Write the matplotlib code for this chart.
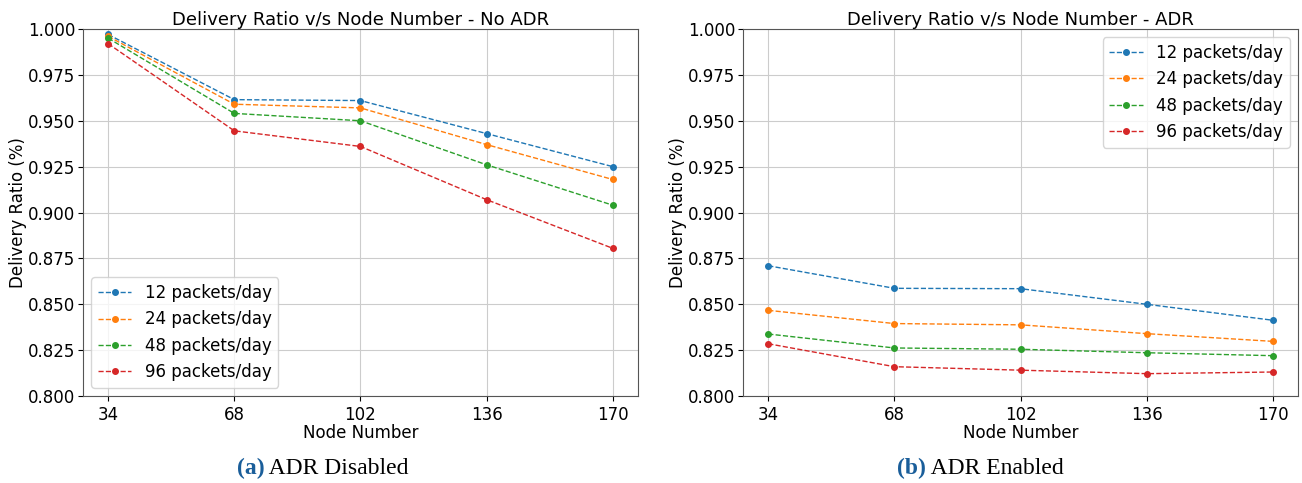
import matplotlib
matplotlib.use("Agg")
import matplotlib.pyplot as plt

plt.rcParams["font.family"] = ["DejaVu Sans"]

nodes = [34, 68, 102, 136, 170]
labels = ["12 packets/day", "24 packets/day", "48 packets/day", "96 packets/day"]

# no ADR
no_adr = [
    [0.997, 0.9615, 0.961, 0.943, 0.925],
    [0.996, 0.959, 0.957, 0.937, 0.918],
    [0.995, 0.954, 0.950, 0.926, 0.904],
    [0.992, 0.9445, 0.936, 0.907, 0.8805],
]

# ADR enabled
adr = [
    [0.871, 0.8587, 0.8585, 0.850, 0.8413],
    [0.8467, 0.8395, 0.8388, 0.834, 0.8298],
    [0.8338, 0.8262, 0.8255, 0.8236, 0.822],
    [0.8285, 0.816, 0.8141, 0.8122, 0.8131],
]

colors = ["#1f77b4", "#ff7f0e", "#2ca02c", "#d62728"]
yticks = [0.800, 0.825, 0.850, 0.875, 0.900, 0.925, 0.950, 0.975, 1.000]

fig = plt.figure(figsize=(13.02, 4.83), dpi=100)
ax1 = fig.add_axes([0.0637, 0.180, 0.4263, 0.760])
ax2 = fig.add_axes([0.5707, 0.180, 0.4263, 0.760])


def draw(ax, data, title, loc):
    for vals, lab, c in zip(data, labels, colors):
        ax.plot(nodes, vals, "--o", color=c, label=lab, linewidth=1, markersize=4)
    ax.set_xticks(nodes)
    ax.set_yticks(yticks)
    ax.set_yticklabels([f"{v:.3f}" for v in yticks])
    ax.set_ylim(0.8, 1.0)
    ax.tick_params(labelsize=12)
    ax.tick_params(axis="y", pad=2)
    ax.grid(True, color="#cccccc", linewidth=0.8)
    ax.set_title(title, fontsize=13, pad=3)
    ax.set_xlabel("Node Number", fontsize=12, labelpad=0)
    ax.set_ylabel("Delivery Ratio (%)", fontsize=12, labelpad=1)
    ax.legend(loc=loc, fontsize=12)
    for s in ax.spines.values():
        s.set_color("#555555")


draw(ax1, no_adr, "Delivery Ratio v/s Node Number - No ADR", "lower left")
draw(ax2, adr, "Delivery Ratio v/s Node Number - ADR", "upper right")

cap = dict(fontsize=17, family="Liberation Serif", va="center")
fig.text(0.203, 0.031, "(a)", ha="right", weight="bold", color="#1a5e9a", **cap)
fig.text(0.203, 0.031, " ADR Disabled", ha="left", **cap)
fig.text(0.711, 0.031, "(b)", ha="right", weight="bold", color="#1a5e9a", **cap)
fig.text(0.711, 0.031, " ADR Enabled", ha="left", **cap)

fig.savefig("out.png", dpi=100)
